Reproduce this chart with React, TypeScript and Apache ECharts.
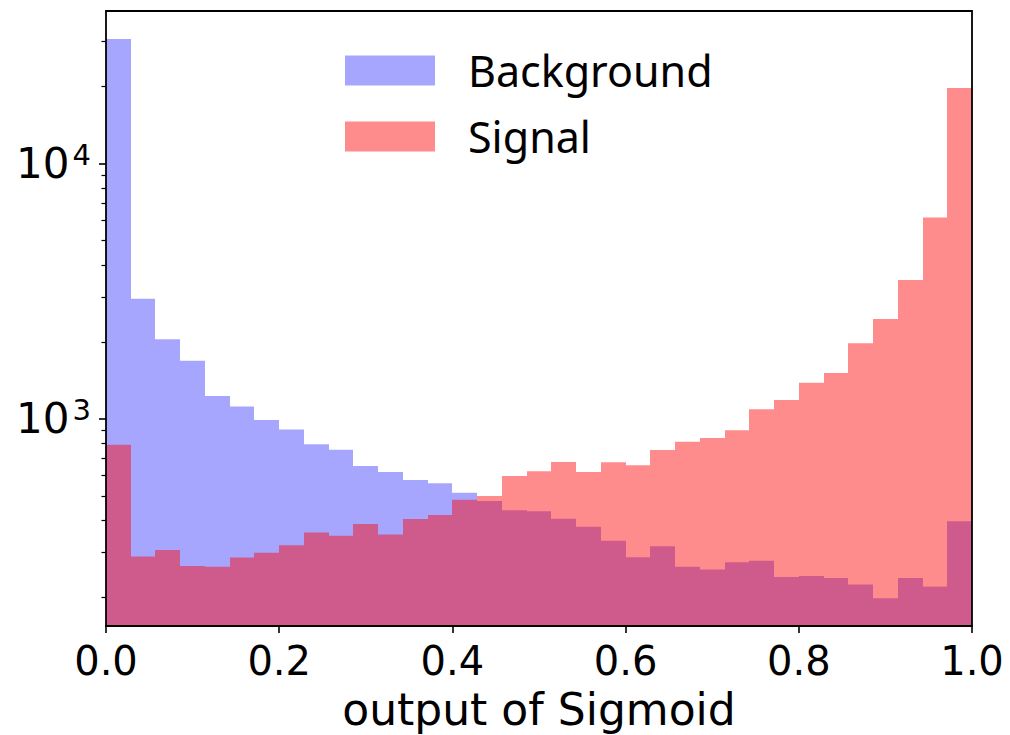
import React, { useEffect, useRef } from 'react';
import * as echarts from 'echarts';

// ---- data ----
const X_MIN = 0;
const X_MAX = 1;
const BIN_COUNT = 35;
const Y_MIN = 155;
const Y_MAX = 39400;
const X_TICK_STEP = 0.2;
const Y_MAJOR_TICKS = [1000, 10000];
const Y_MINOR_TICKS = [200, 300, 400, 500, 600, 700, 800, 900, 2000, 3000, 4000, 5000, 6000, 7000, 8000, 9000, 20000, 30000];
const SERIES_NAMES = ['Background', 'Signal'];
const X_LABEL = 'output of Sigmoid';

const background = [
  30600, 2950, 2050, 1690, 1230, 1120, 990, 910, 796, 758, 655, 620, 577, 560, 515, 478, 440, 436,
  407, 379, 334, 288, 318, 264, 258, 275, 279, 241, 243, 239, 225, 199, 239, 221, 398,
];
const signal = [
  793, 290, 307, 266, 264, 287, 300, 321, 360, 349, 388, 353, 406, 421, 483, 500, 598, 624, 679,
  620, 677, 659, 757, 815, 843, 903, 1091, 1187, 1387, 1514, 1979, 2462, 3499, 6138, 19680,
];

const COLORS = ['rgba(0,0,255,0.35)', 'rgba(255,0,0,0.45)'];
const FONT = 'DejaVu Sans';

function toBins(values: number[]) {
  const w = (X_MAX - X_MIN) / BIN_COUNT;
  return values.map((v, i) => [X_MIN + i * w, X_MIN + (i + 1) * w, v]);
}

function renderBar(color: string) {
  return (params: any, api: any) => {
    const x0 = api.value(0);
    const x1 = api.value(1);
    const v = api.value(2);
    const a = api.coord([x0, v]);
    const b = api.coord([x1, v]);
    const cs = params.coordSys;
    const bottom = cs.y + cs.height;
    const left = Math.round(a[0]);
    const right = Math.round(b[0]);
    return {
      type: 'rect',
      shape: { x: left, y: a[1], width: right - left, height: bottom - a[1] },
      style: { fill: color },
    };
  };
}

export default function App() {
  const ref = useRef<HTMLDivElement>(null);
  useEffect(() => {
    if (!ref.current) return;
    const chart = echarts.init(ref.current, undefined, { renderer: 'svg' });
    const lineStyle = { color: '#000', width: 1.8 };
    chart.setOption({
      animation: false,
      backgroundColor: '#fff',
      grid: {
        left: 106,
        right: 38,
        top: 11,
        bottom: 109,
        containLabel: false,
        outerBoundsMode: 'none',
      },
      legend: {
        orient: 'vertical',
        left: 345,
        top: 49,
        padding: 0,
        itemWidth: 90,
        itemHeight: 30,
        itemGap: 23,
        icon: 'rect',
        data: SERIES_NAMES,
        formatter: (name: string) => `{t|${name}}`,
        textStyle: {
          color: '#000',
          rich: {
            t: {
              fontSize: 43,
              fontFamily: 'Noto Sans',
              color: '#000',
              lineHeight: 30,
              height: 30,
              padding: [0, 0, 0, 28],
            },
          },
        },
      },
      xAxis: [
        {
          type: 'value',
          min: X_MIN,
          max: X_MAX,
          interval: X_TICK_STEP,
          position: 'bottom',
          z: 10,
          splitLine: { show: false },
          axisLine: { show: true, lineStyle },
          axisTick: { show: true, inside: false, length: 7, lineStyle: { color: '#000', width: 1.6 } },
          axisLabel: {
            margin: 15,
            fontSize: 40,
            lineHeight: 40,
            fontFamily: FONT,
            color: '#000',
            formatter: (v: number) => v.toFixed(1),
          },
          name: X_LABEL,
          nameLocation: 'middle',
          nameGap: 61,
          nameTextStyle: { fontSize: 44, lineHeight: 44, fontFamily: FONT, color: '#000' },
        },
        {
          type: 'value',
          min: X_MIN,
          max: X_MAX,
          position: 'top',
          z: 10,
          splitLine: { show: false },
          axisLine: { show: true, lineStyle },
          axisTick: { show: false },
          axisLabel: { show: false },
        },
      ],
      yAxis: [
        {
          type: 'log',
          logBase: 10,
          min: Y_MIN,
          max: Y_MAX,
          position: 'left',
          z: 10,
          splitLine: { show: false },
          axisLine: { show: true, lineStyle },
          axisTick: {
            show: true,
            inside: false,
            length: 7,
            customValues: Y_MAJOR_TICKS,
            lineStyle: { color: '#000', width: 1.6 },
          },
          axisLabel: {
            margin: 15,
            customValues: Y_MAJOR_TICKS,
            formatter: (v: number) => `{b|10}{s|${Math.round(Math.log10(v))}}`,
            rich: {
              b: { fontSize: 42, lineHeight: 46, fontFamily: FONT, color: '#000' },
              s: {
                fontSize: 29,
                lineHeight: 20,
                fontFamily: FONT,
                color: '#000',
                verticalAlign: 'top',
                padding: [0, 0, 0, 3],
              },
            },
          },
        },
        {
          type: 'log',
          logBase: 10,
          min: Y_MIN,
          max: Y_MAX,
          position: 'left',
          z: 10,
          splitLine: { show: false },
          axisLine: { show: false },
          axisTick: {
            show: true,
            inside: false,
            length: 4.5,
            customValues: Y_MINOR_TICKS,
            lineStyle: { color: '#000', width: 1.2 },
          },
          axisLabel: { show: false },
        },
        {
          type: 'value',
          min: 0,
          max: 1,
          position: 'right',
          z: 10,
          splitLine: { show: false },
          axisLine: { show: true, lineStyle },
          axisTick: { show: false },
          axisLabel: { show: false },
        },
      ],
      series: [
        {
          name: SERIES_NAMES[0],
          type: 'custom',
          xAxisIndex: 0,
          yAxisIndex: 0,
          itemStyle: { color: COLORS[0] },
          encode: { x: [0, 1], y: 2 },
          renderItem: renderBar(COLORS[0]),
          data: toBins(background),
          z: 2,
        },
        {
          name: SERIES_NAMES[1],
          type: 'custom',
          xAxisIndex: 0,
          yAxisIndex: 0,
          itemStyle: { color: COLORS[1] },
          encode: { x: [0, 1], y: 2 },
          renderItem: renderBar(COLORS[1]),
          data: toBins(signal),
          z: 3,
        },
      ],
    });
    return () => chart.dispose();
  }, []);
  return (
    <div
      ref={ref}
      style={{ position: 'absolute', left: 0, top: 0, width: 1010, height: 735, background: '#fff' }}
    />
  );
}
